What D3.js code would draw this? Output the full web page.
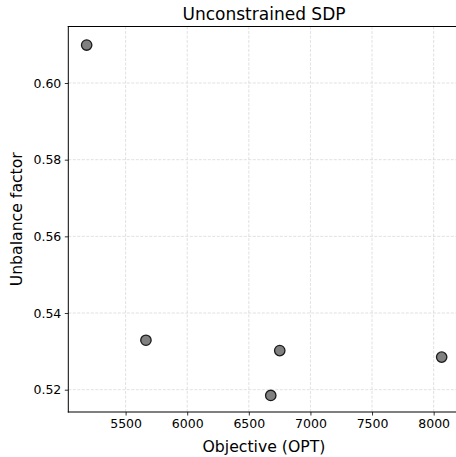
<!DOCTYPE html>
<html>
<head>
<meta charset="utf-8">
<script src="https://cdn.jsdelivr.net/npm/d3@7"></script>
<style>
  body { margin: 0; background: #fff; overflow: hidden; }
  svg text { font-family: "DejaVu Sans", sans-serif; fill: #000; }
</style>
</head>
<body>
<svg id="chart" width="456" height="457"></svg>
<script>
// data
var objective = [5184, 5665, 6751, 6678, 8065];
var unbalance = [0.6099, 0.5329, 0.5302, 0.5185, 0.5285];
var xTicks = [5500, 6000, 6500, 7000, 7500, 8000];
var yTicks = [0.52, 0.54, 0.56, 0.58, 0.60];

var svg = d3.select("#chart");

// plot box; right side runs past the window like the original
var box = { left: 68.3, top: 26.5, bottom: 412, right: 462 };

var x = d3.scaleLinear().domain([5035, 8230]).range([box.left, box.right]);
var y = d3.scaleLinear().domain([0.51418, 0.61474]).range([box.bottom, box.top]);

// grid
var grid = svg.append("g");
grid.selectAll("line.gx")
    .data(xTicks)
  .enter().append("line")
    .attr("class", "gx")
    .attr("x1", function(d) { return x(d); })
    .attr("x2", function(d) { return x(d); })
    .attr("y1", box.top)
    .attr("y2", box.bottom);
grid.selectAll("line.gy")
    .data(yTicks)
  .enter().append("line")
    .attr("class", "gy")
    .attr("x1", box.left)
    .attr("x2", box.right)
    .attr("y1", function(d) { return y(d); })
    .attr("y2", function(d) { return y(d); });
grid.selectAll("line")
    .attr("stroke", "#d9d9d9")
    .attr("stroke-width", 0.8)
    .attr("stroke-dasharray", "3,1.5");

// axes
var xAxis = d3.axisBottom(x).tickValues(xTicks).tickSize(3.5).tickPadding(3.5)
    .tickFormat(d3.format("d"));
var yAxis = d3.axisLeft(y).tickValues(yTicks).tickSize(3.5).tickPadding(3.5)
    .tickFormat(d3.format(".2f"));

var gx = svg.append("g").attr("transform", "translate(0," + box.bottom + ")").call(xAxis);
var gy = svg.append("g").attr("transform", "translate(" + box.left + ",0)").call(yAxis);

[gx, gy].forEach(function(g) {
  g.select(".domain").remove();
  g.selectAll("line").attr("stroke", "#000").attr("stroke-width", 0.8);
  g.selectAll("text").style("font-size", "12.5px").attr("fill", "#000");
});

// spines (the right one falls outside the window)
var spines = [
  [box.left, box.top, box.left, box.bottom],
  [box.left, box.top, box.right, box.top],
  [box.left, box.bottom, box.right, box.bottom]
];
svg.append("g").selectAll("line")
    .data(spines)
  .enter().append("line")
    .attr("x1", function(d) { return d[0]; })
    .attr("y1", function(d) { return d[1]; })
    .attr("x2", function(d) { return d[2]; })
    .attr("y2", function(d) { return d[3]; })
    .attr("stroke", "#000")
    .attr("stroke-width", 1)
    .attr("stroke-linecap", "square");

// points
svg.append("g").selectAll("circle")
    .data(objective)
  .enter().append("circle")
    .attr("cx", function(d) { return x(d); })
    .attr("cy", function(d, i) { return y(unbalance[i]); })
    .attr("r", 5.2)
    .attr("fill", "#808080")
    .attr("stroke", "#1a1a1a")
    .attr("stroke-width", 1.3);

// labels
svg.append("text")
    .attr("x", 264)
    .attr("y", 20)
    .attr("text-anchor", "middle")
    .style("font-size", "17px")
    .text("Unconstrained SDP");

svg.append("text")
    .attr("x", 264)
    .attr("y", 451.5)
    .attr("text-anchor", "middle")
    .style("font-size", "15.7px")
    .text("Objective (OPT)");

svg.append("text")
    .attr("transform", "translate(21.5," + ((box.top + box.bottom) / 2) + ") rotate(-90)")
    .attr("text-anchor", "middle")
    .style("font-size", "15.7px")
    .text("Unbalance factor");
</script>
</body>
</html>
